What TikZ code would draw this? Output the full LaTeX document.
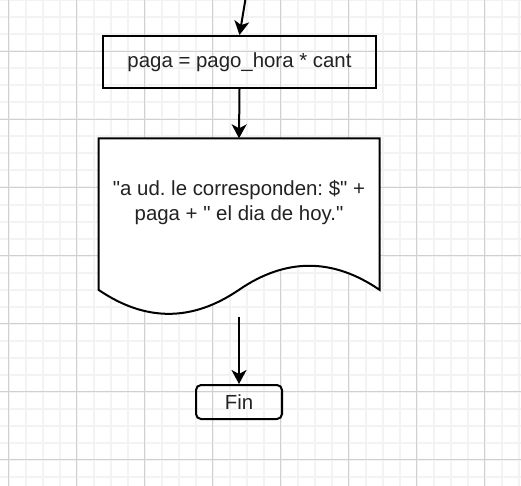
\documentclass[tikz,border=0pt]{standalone}
\usepackage{fontspec}
\setmainfont{Liberation Sans}[Ligatures=TeXOff]
\usetikzlibrary{arrows.meta}
\definecolor{minorgrid}{HTML}{F3F3F3}
\definecolor{majorgrid}{HTML}{D0D0D0}
\definecolor{txt}{HTML}{222222}
\newcommand{\dq}{\symbol{34}}
\tikzset{
  flowline/.style={line width=2pt, -{Stealth[length=14pt,width=15pt,inset=4pt]}},
  procbox/.style={draw, line width=2pt, minimum width=273pt, minimum height=52pt, inner sep=0pt, text=txt, font=\fontsize{20.4}{24.5}\selectfont},
  endbox/.style={draw, line width=2pt, rounded corners=5pt, minimum width=86pt, minimum height=34pt, inner sep=0pt, text=txt, font=\fontsize{20.4}{24.5}\selectfont},
  doctext/.style={align=center, text=txt, font=\fontsize{20.4}{24.5}\selectfont\frenchspacing},
}
\begin{document}
\begin{tikzpicture}[x=1pt,y=-1pt]
\useasboundingbox (0,0) rectangle (521,486);
\fill[white] (0,0) rectangle (521,486);
% grid
\foreach \k in {0,...,30} {\draw[minorgrid, line width=2pt] (8.5+17*\k,0) -- (8.5+17*\k,486);}
\foreach \k in {0,...,28} {\draw[minorgrid, line width=2pt] (0,0.5+17*\k) -- (521,0.5+17*\k);}
\foreach \k in {0,...,7} {\draw[majorgrid, line width=1pt] (8.5+68*\k,0) -- (8.5+68*\k,486);}
\foreach \k in {0,...,6} {\draw[majorgrid, line width=1pt] (0,51.5+68*\k) -- (521,51.5+68*\k);}
% nodes
\coordinate (start) at (245.5,-1);
\node[procbox] (calc) at (239.5,62) {paga = pago\_hora * cant};
\node[minimum width=281pt, minimum height=178pt, inner sep=0pt] (doc) at (239,227.5) {};
\draw[line width=2pt, fill=white, line join=miter] (98.5,138.5) -- (379.5,138.5) -- (379.5,289.8)
   .. controls (332.67,257.76) and (285.83,257.76) .. (239,289.8)
   .. controls (192.17,321.84) and (145.33,321.84) .. (98.5,289.8) -- cycle;
\node[doctext] (doctxt) at (239,202.5) {\dq a ud. le corresponden: \$\dq{} +\\paga + \dq{} el dia de hoy.\dq};
\coordinate (docout) at (239,316.5);
\node[endbox] (fin) at (239,402) {Fin};
% connectors
\draw[flowline] (start) -- (calc.north);
\draw[flowline] (calc.south) -- (doc.north);
\draw[flowline] (docout) -- (fin.north);
\end{tikzpicture}
\end{document}
